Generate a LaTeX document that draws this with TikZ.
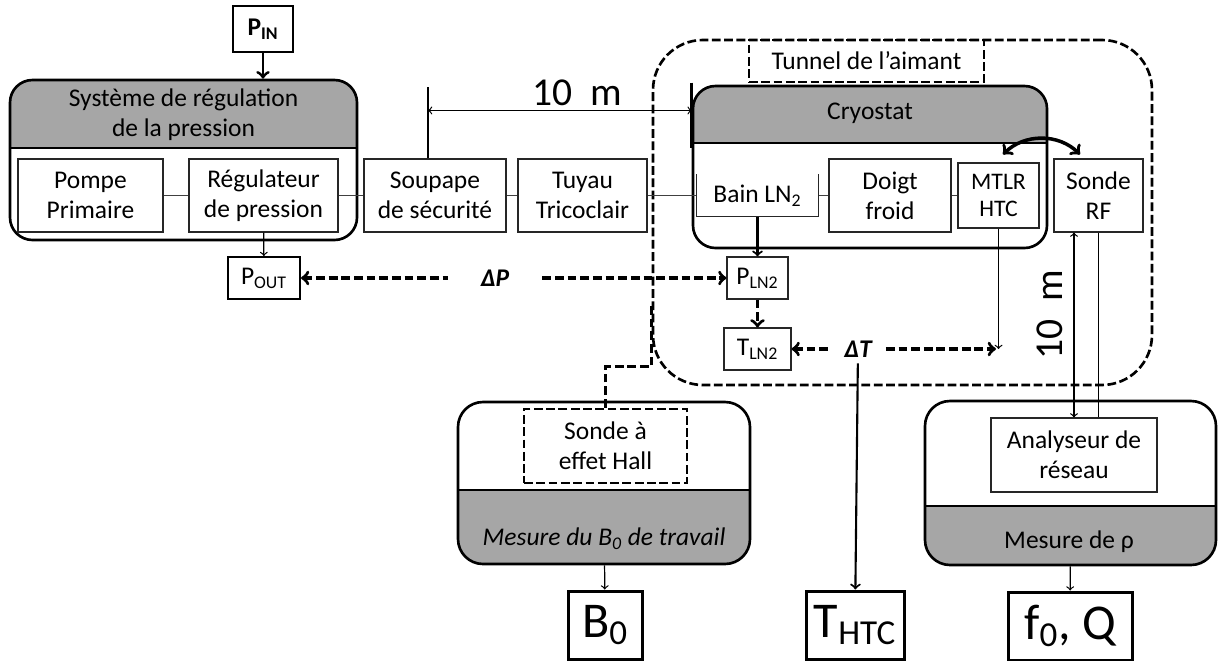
\documentclass[tikz,border=0pt]{standalone}
\usepackage{fontspec}
\setmainfont{Carlito}

\definecolor{gris_entete}{RGB}{166,166,166}

\begin{document}
\begin{tikzpicture}[
    every node/.style={font=\fontsize{14.5}{17}\selectfont},
    boite/.style={rectangle, draw=black!85, line width=0.6pt, fill=white,
                  inner sep=0pt, align=center},
    cadre/.style={rectangle, draw, line width=1.5pt, fill=white,
                  rounded corners=0.45cm, inner sep=0pt},
    entete/.style={path picture={
        \fill[gris_entete, sharp corners] (path picture bounding box.north west)
            rectangle ([yshift=-#1]path picture bounding box.north east);
        \draw[line width=1.5pt] ([yshift=-#1]path picture bounding box.north west)
            -- ([yshift=-#1]path picture bounding box.north east);}},
    pied/.style={path picture={
        \fill[gris_entete, sharp corners] (path picture bounding box.south west)
            rectangle ([yshift=#1]path picture bounding box.south east);
        \draw[line width=1.5pt] ([yshift=#1]path picture bounding box.south west)
            -- ([yshift=#1]path picture bounding box.south east);}},
    sortie/.style={rectangle, draw, line width=1.7pt, fill=white, inner sep=0pt,
                   font=\fontsize{28.5}{30}\selectfont},
    pointille/.style={line width=1.5pt, dash pattern=on 5pt off 2pt},
    mesure/.style={line width=1.9pt, dash pattern=on 5pt off 2.2pt},
    lien/.style={draw=black!75, line width=0.6pt},
    fleche/.style={->, line width=0.7pt},
    ecart/.style={font=\fontsize{14.5}{17}\selectfont\bfseries\itshape},
    grand/.style={font=\fontsize{22.5}{24}\selectfont}
]
    \useasboundingbox (0,0) rectangle (24.36,-13.22);

    % Pressure regulation
    \node[rectangle, draw, line width=1.7pt, inner sep=0pt,
          minimum width=1.2cm, minimum height=0.92cm] (pin) at (5.26,-0.58)
        {\textbf{P\textsubscript{IN}}};
    \node[cadre, entete=1.36cm, minimum width=6.94cm, minimum height=3.2cm]
        (sys) at (3.67,-3.20) {};
    \node[align=center] (sys_titre) at (3.67,-2.30)
        {Système de régulation\\de la pression};
    \node[boite, minimum width=2.90cm, minimum height=1.46cm] (pompe) at (1.81,-3.91)
        {Pompe\\Primaire};
    \node[boite, minimum width=2.98cm, minimum height=1.46cm] (regul) at (5.27,-3.91)
        {Régulateur\\de pression};
    \node[boite, minimum width=2.84cm, minimum height=1.46cm] (soupape) at (8.70,-3.91)
        {Soupape\\de sécurité};
    \node[boite, minimum width=2.58cm, minimum height=1.46cm] (tuyau) at (11.65,-3.91)
        {Tuyau\\Tricoclair};
    \node[rectangle, draw, line width=1.1pt, inner sep=0pt,
          minimum width=1.44cm, minimum height=0.84cm] (pout) at (5.28,-5.56)
        {P\textsubscript{OUT}};

    \draw[->, line width=1.7pt] (pin) -- (pin |- sys.north);
    \draw[lien] (pompe) -- (regul);
    \draw[lien] (regul) -- (soupape);
    \draw[lien] (soupape) -- (tuyau);
    \draw[fleche] (regul) -- (pout);

    % Magnet bore
    \node[rectangle, draw, pointille, rounded corners=1cm,
          minimum width=9.98cm, minimum height=6.9cm] (tunnel) at (18.05,-4.25) {};
    \node[rectangle, draw, pointille, inner sep=0pt,
          minimum width=4.70cm, minimum height=0.84cm] (aimant) at (17.33,-1.22)
        {Tunnel de l’aimant};

    % Cryostat
    \node[cadre, entete=1.14cm, minimum width=7.08cm, minimum height=3.24cm]
        (cryo) at (17.40,-3.34) {};
    \node (cryo_titre) at (17.40,-2.26) {Cryostat};
    \node[boite, draw=none, minimum width=2.42cm, minimum height=0.82cm]
        (bain) at (15.15,-3.91) {Bain LN\textsubscript{2}};
    \draw[line width=0.6pt, black!85] (bain.north west) |- (bain.south east)
        -- (bain.north east);
    \node[boite, minimum width=2.44cm, minimum height=1.46cm] (doigt) at (17.80,-3.91)
        {Doigt\\froid};
    \node[boite, minimum width=1.62cm, minimum height=1.30cm,
          font=\fontsize{13.5}{15.5}\selectfont] (mtlr) at (19.97,-3.91) {MTLR\\HTC};
    \node[boite, minimum width=1.78cm, minimum height=1.46cm] (sonde) at (21.97,-3.91)
        {Sonde\\RF};

    \draw[lien] (tuyau) -- (bain);
    \draw[lien] (bain) -- (doigt);
    \draw[lien] (doigt) -- (mtlr);
    \draw[<->, line width=2pt] ([shift={(0.09,0.16)}]mtlr.north)
        to[bend left=45] ([shift={(-0.37,0.08)}]sonde.north);

    % 10 m between the valve and the cryostat
    \draw[line width=1.5pt] ([xshift=-0.14cm]soupape.north) -- ++(0,1.42)
        coordinate (cote_g);
    \draw[line width=1.5pt] ([yshift=0.04cm]cryo.north west) -- ++(0,-1.3);
    \coordinate (cote_a) at ([yshift=-0.46cm]cote_g);
    \draw[<->, line width=0.7pt] (cote_a) -- (cote_a -| cryo.west);
    \node[grand] (dixm) at (11.54,-1.86) {10~ m};

    % Pressure and temperature of the bath
    \node[boite, minimum width=1.22cm, minimum height=0.84cm] (pln2) at (15.15,-5.56)
        {P\textsubscript{LN2}};
    \node[boite, minimum width=1.34cm, minimum height=0.84cm] (tln2) at (15.15,-6.98)
        {T\textsubscript{LN2}};
    \node[ecart, minimum width=1.88cm] (dp) at (9.90,-5.56) {ΔP};
    \node[ecart, minimum width=1.1cm] (dt) at (17.16,-6.98) {ΔT};
    \coordinate (htc_bas) at (mtlr.south |- tln2.east);

    \draw[->, line width=1.2pt] (bain) -- (pln2);
    \draw[mesure, <-] (pout) -- (dp);
    \draw[mesure, ->] (dp) -- (pln2);
    \draw[mesure, ->] (pln2) -- (tln2);
    \draw[fleche] (mtlr) -- (htc_bas);
    \draw[mesure, <-] (tln2) -- (dt);
    \draw[mesure, ->] (dt) -- ([xshift=-0.05cm]htc_bas);

    % B0 measurement
    \node[cadre, pied=1.48cm, rounded corners=0.5cm, minimum width=5.84cm,
          minimum height=3.24cm] (mb0) at (12.08,-9.66) {};
    \node[boite, pointille, draw=black, align=center, minimum width=3.26cm,
          minimum height=1.48cm] (hall) at (12.11,-8.92) {Sonde à\\effet Hall};
    \node (mb0_titre) at (12.08,-10.78) {\textit{Mesure du B\textsubscript{0} de travail}};
    \draw[mesure] (hall.north) |- ([yshift=0.4cm]tunnel.south west)
        -- ([yshift=1.6cm]tunnel.south west);

    % Resistivity measurement
    \node[cadre, pied=1.18cm, rounded corners=0.5cm, minimum width=5.82cm,
          minimum height=3.28cm] (mrho) at (21.41,-9.66) {};
    \node[boite, minimum width=3.32cm, minimum height=1.48cm] (ana) at (21.48,-9.10)
        {Analyseur de\\réseau};
    \node (mrho_titre) at (21.38,-10.84) {Mesure de ρ};
    \draw[<->, line width=0.7pt] (ana.north) -- (ana.north |- sonde.south);
    \draw[line width=0.7pt] (sonde.south) -- (sonde.south |- ana.north);
    \node[grand, rotate=90] (dixm_v) at (21.0,-6.30) {10~ m};

    % Outputs
    \node[sortie, minimum width=1.48cm, minimum height=1.36cm] (b0) at (12.10,-12.50)
        {B\textsubscript{0}};
    \node[sortie, minimum width=1.96cm, minimum height=1.36cm] (thtc) at (17.10,-12.50)
        {T\textsubscript{HTC}};
    \node[sortie, minimum width=2.48cm, minimum height=1.36cm] (f0q) at (21.40,-12.52)
        {f\textsubscript{0}, Q};

    \draw[fleche] (mb0) -- (b0);
    \draw[->, line width=1.2pt] (dt) -- (thtc);
    \draw[fleche] (mrho) -- (f0q);
\end{tikzpicture}
\end{document}
